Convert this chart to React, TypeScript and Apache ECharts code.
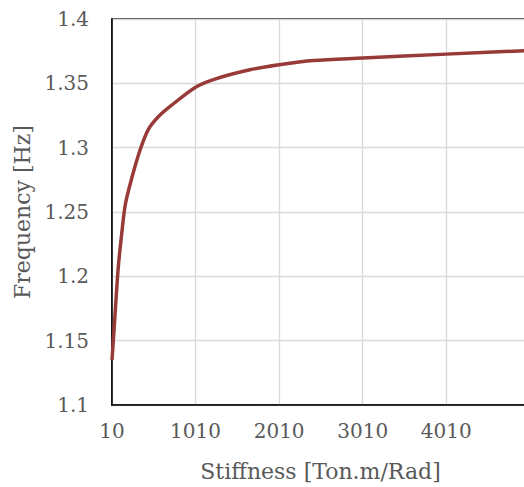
import React, { useEffect, useRef } from "react";
import * as echarts from "echarts";

const stiffness = [10, 34, 58, 85, 126, 170, 245, 345, 444, 564, 724, 1010, 1242, 1660, 2010, 2420, 3010, 4010, 5000];
const frequency = [1.135, 1.158, 1.182, 1.207, 1.233, 1.256, 1.276, 1.298, 1.314, 1.324, 1.333, 1.347, 1.3533, 1.3605, 1.3644, 1.3677, 1.3696, 1.3727, 1.3755];
const xOffset = 10;
const xMin = 10;
const xMax = 5000;
const xTickStep = 1000;
const yTicks = [1.1, 1.15, 1.2, 1.25, 1.3, 1.35, 1.4];

const FONT = "'DejaVu Serif', 'Liberation Serif', serif";
const TXT = "#595959";

export default function App() {
  const ref = useRef<HTMLDivElement>(null);
  useEffect(() => {
    if (!ref.current) return;
    const chart = echarts.init(ref.current, undefined, { renderer: "svg" });
    chart.setOption({
      animation: false,
      backgroundColor: "#fff",
      grid: {
        left: 112,
        top: 19,
        bottom: 82,
        right: 11,
        show: true,
        borderColor: "#000",
        borderWidth: 1.5,
      },
      xAxis: {
        type: "value",
        min: xMin - xOffset,
        max: xMax - xOffset,
        interval: xTickStep,
        name: "Stiffness [Ton.m/Rad]",
        nameLocation: "middle",
        nameGap: 55,
        nameTextStyle: { fontFamily: FONT, fontSize: 22, color: TXT },
        axisLine: { show: true, lineStyle: { color: "#000", width: 1.5 } },
        axisTick: { show: false },
        axisLabel: {
          fontFamily: FONT,
          fontSize: 20,
          color: TXT,
          margin: 16,
          showMaxLabel: false,
          formatter: (v: number) => String(v + xOffset),
        },
        splitLine: { show: true, lineStyle: { color: "#d9d9d9", width: 1.3 } },
      },
      yAxis: {
        type: "value",
        min: yTicks[0],
        max: yTicks[yTicks.length - 1],
        interval: 0.05,
        name: "Frequency [Hz]",
        nameLocation: "middle",
        nameGap: 72,
        nameTextStyle: { fontFamily: FONT, fontSize: 22, color: TXT },
        axisLine: { show: true, lineStyle: { color: "#000", width: 1.5 } },
        axisTick: { show: false },
        axisLabel: {
          fontFamily: FONT,
          fontSize: 20,
          color: TXT,
          margin: 23,
          formatter: (v: number) => String(parseFloat(v.toFixed(2))),
        },
        splitLine: { show: true, lineStyle: { color: "#d9d9d9", width: 1.3 } },
      },
      series: [
        {
          type: "line",
          data: stiffness.map((s, i) => [s - xOffset, frequency[i]]),
          smooth: 0.3,
          showSymbol: false,
          lineStyle: { color: "#983a38", width: 3.5 },
          clip: true,
        },
      ],
    });
    return () => chart.dispose();
  }, []);
  return (
    <div style={{ position: "absolute", left: 0, top: 0, width: 524, height: 487, overflow: "hidden" }}>
      <div ref={ref} style={{ width: 540, height: 487 }} />
    </div>
  );
}
